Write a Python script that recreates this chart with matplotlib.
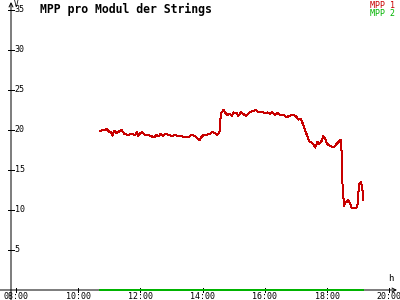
import matplotlib
matplotlib.use("Agg")
import matplotlib.pyplot as plt

mpp1_t = [10.70, 10.92, 10.99, 11.05, 11.10, 11.16, 11.23, 11.31, 11.40, 11.48,
          11.61, 11.72, 11.83, 11.89, 11.93, 12.00, 12.06, 12.15, 12.25, 12.36,
          12.45, 12.53, 12.60, 12.64, 12.73, 12.79, 12.90, 13.01, 13.11, 13.22,
          13.33, 13.43, 13.54, 13.65, 13.76, 13.83, 13.89, 14.00, 14.11, 14.22,
          14.32, 14.40, 14.45, 14.54, 14.56, 14.59, 14.67, 14.72, 14.78, 14.88,
          14.94, 14.99, 15.10, 15.15, 15.23, 15.31, 15.39, 15.45, 15.52, 15.63,
          15.71, 15.79, 15.90, 16.01, 16.09, 16.17, 16.24, 16.33, 16.41, 16.49,
          16.59, 16.70, 16.81, 16.92, 17.00, 17.08, 17.15, 17.22, 17.29, 17.37,
          17.43, 17.51, 17.56, 17.62, 17.69, 17.75, 17.82, 17.88, 17.94, 17.99,
          18.07, 18.15, 18.23, 18.31, 18.40, 18.45, 18.48, 18.50, 18.55, 18.58,
          18.63, 18.68, 18.74, 18.80, 18.85, 18.95, 19.00, 19.02, 19.06, 19.09,
          19.13, 19.16, 19.17]
mpp1_v = [19.9, 20.1, 19.8, 19.7, 19.3, 19.9, 19.6, 19.8, 20.0, 19.5,
          19.4, 19.5, 19.4, 19.7, 19.25, 19.6, 19.7, 19.4, 19.4, 19.2,
          19.1, 19.4, 19.2, 19.5, 19.25, 19.5, 19.4, 19.25, 19.4, 19.2,
          19.2, 19.1, 19.1, 19.4, 19.2, 19.0, 18.7, 19.3, 19.4, 19.5,
          19.75, 19.6, 19.4, 19.6, 20.7, 22.1, 22.5, 22.2, 21.9, 22.0,
          21.75, 22.2, 22.1, 21.75, 22.2, 22.0, 21.75, 22.0, 22.2, 22.4,
          22.5, 22.2, 22.25, 22.1, 22.2, 22.0, 22.2, 21.9, 22.1, 21.9,
          21.9, 21.6, 21.8, 21.9, 21.7, 21.3, 21.4, 20.8, 20.0, 19.2,
          18.6, 18.4, 18.2, 17.8, 18.5, 18.3, 18.6, 19.25, 19.0, 18.3,
          18.1, 17.9, 17.9, 18.25, 18.6, 18.8, 16.25, 12.9, 10.5, 10.9,
          11.0, 11.25, 10.8, 10.2, 10.3, 10.3, 11.0, 13.1, 13.4, 13.5,
          12.8, 11.7, 11.2]

# MPP 2 liegt die ganze Zeit auf 0
mpp2_t = [10.70, 19.17]
mpp2_v = [0, 0]

x_ticks = [8, 10, 12, 14, 16, 18, 20]
x_labels = ["08:00", "10:00", "12:00", "14:00", "16:00", "18:00", "20:00"]
y_ticks = [5, 10, 15, 20, 25, 30, 35]

RED = "#c80000"
GREEN = "#00b400"
MONO = "DejaVu Sans Mono"
PX = 0.72  # 1 Pixel in Punkt

fig = plt.figure(figsize=(4, 3), dpi=100)
ax = fig.add_axes([11 / 400, 10 / 300, 386 / 400, 288 / 300])
ax.set_xlim(7.84, 20.25)
ax.set_ylim(0, 36)
for s in ax.spines.values():
    s.set_visible(False)
ax.set_xticks([])
ax.set_yticks([])

ax.plot(mpp1_t, mpp1_v, color=RED, lw=PX, antialiased=False, zorder=3)
ax.plot(mpp2_t, mpp2_v, color=GREEN, lw=2 * PX, antialiased=False, zorder=4, clip_on=False)

# Achsen mit offenen Pfeilen
arrow = dict(arrowstyle="->", lw=PX, color="black", shrinkA=0, shrinkB=0, mutation_scale=7)
ax.annotate("", xy=(1.0, 0), xytext=(-0.03, 0), xycoords="axes fraction", arrowprops=arrow)
ax.annotate("", xy=(0, 1.0), xytext=(0, -0.04), xycoords="axes fraction", arrowprops=arrow)

# Ticks von Hand (kreuzen die Achse)
for t, lab in zip(x_ticks, x_labels):
    ax.plot([t, t], [-0.3, 0.3], color="black", lw=PX, clip_on=False, antialiased=False)
    ax.text(t, -0.3, lab, ha="center", va="top", fontsize=6, family=MONO)
for v in y_ticks:
    ax.plot([7.84 - 0.09, 7.84 + 0.09], [v, v], color="black", lw=PX, clip_on=False, antialiased=False)
    ax.text(7.84 + 0.12, v, str(v), ha="left", va="center", fontsize=6, family=MONO)

ax.text(7.84 + 0.1, 36.3, "V", ha="left", va="top", fontsize=5.5, family=MONO)
ax.text(20.05, 0.9, "h", ha="center", va="bottom", fontsize=6.5, family=MONO)

fig.text(40 / 400, 1 - 9 / 300, "MPP pro Modul der Strings", ha="left", va="center",
         fontsize=8.3, family=MONO, fontweight="bold")
fig.text(395 / 400, 1 - 5 / 300, "MPP 1", ha="right", va="center", fontsize=6, family=MONO, color=RED)
fig.text(395 / 400, 1 - 13 / 300, "MPP 2", ha="right", va="center", fontsize=6, family=MONO, color=GREEN)

fig.savefig("out.png", dpi=100, facecolor="white")
